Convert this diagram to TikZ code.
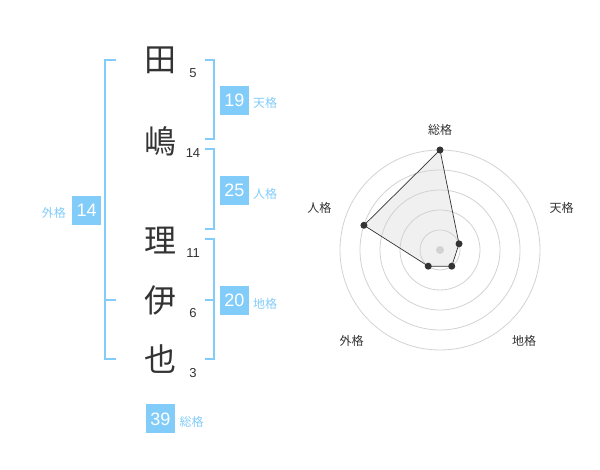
\documentclass[tikz,border=0pt]{standalone}
\usepackage{fontspec}
\setmainfont{Liberation Sans}
\newfontfamily\cjk{Noto Sans CJK JP}
\usetikzlibrary{backgrounds}
\definecolor{kblue}{RGB}{130,204,250}
\definecolor{kdark}{RGB}{51,51,51}
\definecolor{kgrid}{RGB}{210,210,210}
\definecolor{kfill}{RGB}{240,240,240}
\begin{document}
\begin{tikzpicture}[x=1pt,y=1pt,
  kanji/.style={font=\cjk\fontsize{32}{32}\selectfont, text=kdark, inner sep=0},
  strokes/.style={font=\fontsize{13}{13}\selectfont, text=kdark, inner sep=0},
  numbox/.style={fill=kblue, text=white, minimum size=29pt, inner sep=0, font=\fontsize{18}{18}\selectfont},
  kaku/.style={font=\cjk\fontsize{12}{12}\selectfont, text=kblue, inner sep=0},
  bracket/.style={draw=kblue, line width=2pt},
  ring/.style={draw=kgrid, line width=0.8pt},
  rlabel/.style={font=\cjk\fontsize{12}{12}\selectfont, text=kdark, inner sep=0},
  dot/.style={circle, fill=kdark, inner sep=0, minimum size=7pt},
]
\useasboundingbox (0,0) rectangle (600,470);

% name characters
\node[kanji] (k1) at (160,409.5) {田};
\node[kanji] (k2) at (160,328.5) {嶋};
\node[kanji] (k3) at (160,229) {理};
\node[kanji] (k4) at (160,170) {伊};
\node[kanji] (k5) at (160,111) {也};

% stroke counts
\node[strokes] (s1) at (193,397.3) {5};
\node[strokes] (s2) at (193,316.7) {14};
\node[strokes] (s3) at (193,217.3) {11};
\node[strokes] (s4) at (193,157.3) {6};
\node[strokes] (s5) at (193,96.7) {3};

% brackets
\draw[bracket] (116,410) -- (105,410) -- (105,110.7) -- (116,110.7);
\draw[bracket] (105,170) -- (116,170);
\draw[bracket] (205,410) -- (214.3,410) -- (214.3,330.7) -- (205,330.7);
\draw[bracket] (205,320.7) -- (214.3,320.7) -- (214.3,240.7) -- (205,240.7);
\draw[bracket] (205,230.7) -- (214.3,230.7) -- (214.3,110.7) -- (205,110.7);
\draw[bracket] (205,170) -- (214.3,170);

% boxes and labels
\node[numbox] (b1) at (234.3,369.7) {19};
\node[kaku, anchor=west] (l1) at (253,367.5) {天格};
\node[numbox] (b2) at (234.3,279.7) {25};
\node[kaku, anchor=west] (l2) at (253,276.5) {人格};
\node[numbox] (b3) at (234.3,169.7) {20};
\node[kaku, anchor=west] (l3) at (253,166.5) {地格};
\node[numbox] (b4) at (86.7,259.7) {14};
\node[kaku, anchor=east] (l4) at (66,257) {外格};
\node[numbox] (b5) at (160.5,51) {39};
\node[kaku, anchor=west] (l5) at (179.5,48) {総格};

% radar chart
\coordinate (c) at (440,220);
\node[dot] (p1) at ([shift={(90:100pt)}]c) {};
\node[dot] (p2) at ([shift={(18:20pt)}]c) {};
\node[dot] (p3) at ([shift={(-54:20pt)}]c) {};
\node[dot] (p4) at ([shift={(-126:20pt)}]c) {};
\node[dot] (p5) at ([shift={(162:80pt)}]c) {};
\begin{scope}[on background layer]
  \fill[kfill] (p1.center) -- (p2.center) -- (p3.center) -- (p4.center) -- (p5.center) -- cycle;
  \foreach \r in {20,40,60,80,100} \draw[ring] (c) circle (\r pt);
  \draw[kdark, line width=0.7pt] (p1.center) -- (p2.center) -- (p3.center) -- (p4.center) -- (p5.center) -- cycle;
\end{scope}
\node[circle, fill=kgrid, inner sep=0, minimum size=8pt] (ctr) at (c) {};

\node[rlabel] (r1) at (440,340) {総格};
\node[rlabel] (r2) at (561.7,261.7) {天格};
\node[rlabel] (r3) at (524,129) {地格};
\node[rlabel] (r4) at (351.7,129) {外格};
\node[rlabel] (r5) at (319.3,261.7) {人格};
\end{tikzpicture}
\end{document}
